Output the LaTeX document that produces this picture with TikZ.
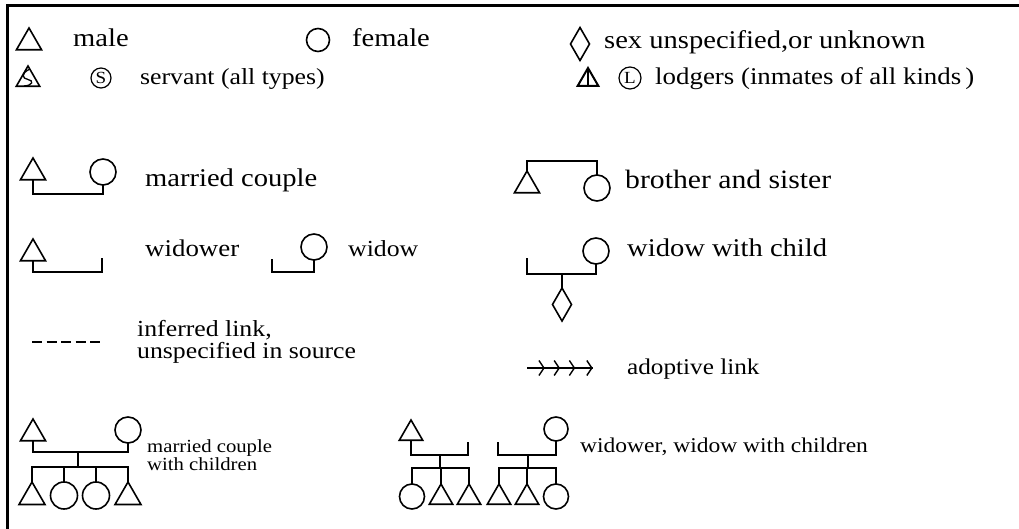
\documentclass[tikz,border=0pt]{standalone}
\usepackage{fontspec}
\setmainfont{Liberation Serif}[FakeStretch=1.12]
\usetikzlibrary{shapes.geometric,decorations.markings,arrows.meta}
\tikzset{
  sym/.style={draw, line width=1.6pt, inner sep=0pt, outer sep=0pt},
  male/.style={sym, regular polygon, regular polygon sides=3, minimum size=#1},
  male/.default=29,
  female/.style={sym, circle, minimum size=#1},
  female/.default=26,
  unknown/.style={sym, diamond, minimum width=19, minimum height=33},
  circlet/.style={draw, circle, line width=1.2pt, inner sep=0pt, minimum size=#1, font=\fontsize{17}{17}\selectfont},
  link/.style={line width=1.6pt},
  lbl/.style={anchor=base west, inner sep=0pt, font=\fontsize{25.5}{28}\selectfont},
  lblm/.style={anchor=base west, inner sep=0pt, font=\fontsize{23}{25}\selectfont},
  lblsmall/.style={anchor=base west, inner sep=0pt, align=left, font=\fontsize{18.5}{17.5}\selectfont},
  inferred/.style={line width=1.3pt, dash pattern=on 10pt off 4.5pt},
  adopt/.style={line width=1.4pt, postaction={decorate},
    decoration={markings,
      mark=at position 0.27 with {\arrow{Straight Barb[length=5pt,width=15pt]}},
      mark=at position 0.5 with {\arrow{Straight Barb[length=5pt,width=15pt]}},
      mark=at position 0.73 with {\arrow{Straight Barb[length=5pt,width=15pt]}},
      mark=at position 0.995 with {\arrow{Straight Barb[length=5pt,width=15pt]}}}},
  frame/.style={line width=3pt}
}
\begin{document}
\begin{tikzpicture}[x=1pt,y=-1pt]
\fill[white] (0,0) rectangle (1019,529);
\useasboundingbox (0,0) rectangle (1019,529);
% frame
\coordinate (fr1) at (7,529);
\coordinate (fr2) at (7,6);
\coordinate (fr3) at (1019,6);
\draw[frame] (fr1) -- (fr2) -- (fr3);

% ---------- row 1
\node[male, anchor=north] (m0) at (29,28) {};
\node[lbl] (tmale) at (73,47) {male};
\node[female=23] (f0) at (318,40) {};
\node[lbl] (tfemale) at (352,47) {female};
\node[unknown] (u0) at (580,44) {};
\node[lbl] (tunk) at (604,49) {sex unspecified,or unknown};

% ---------- row 2
\node[male=27, anchor=north] (sv) at (28,66) {};
\draw[line width=1.3pt] ([shift={(1,-10)}]sv.center) .. controls ([shift={(-7,-6)}]sv.center) and ([shift={(-6,-1)}]sv.center) .. ([shift={(0,0)}]sv.center) .. controls ([shift={(6,1)}]sv.center) and ([shift={(5,6)}]sv.center) .. ([shift={(-4,6.5)}]sv.center);
\node[circlet=20] (sc) at (101,78) {S};
\node[lblm] (tserv) at (140,85) {servant (all types)};
\node[male=24, line width=2pt, anchor=north] (ld) at (588,68) {};
\draw[line width=1.6pt] (ld.north) -- (ld.south);
\node[circlet=22] (lc) at (630,78) {L};
\node[lbl, font=\fontsize{24}{26}\selectfont] (tlodg) at (655,85) {lodgers (inmates of all kinds\,)};

% ---------- row 3: married couple
\node[male, anchor=north] (mcm) at (33,158) {};
\node[female] (mcf) at (103,172) {};
\coordinate (mcb) at (103,194);
\draw[link] (mcm.south) |- (mcb) -- (mcf.south);
\node[lbl] (tmc) at (145,187) {married couple};

% brother and sister
\node[male, anchor=north] (bsm) at (527,171) {};
\node[female] (bsf) at (597,188) {};
\coordinate (bsb) at (597,161);
\draw[link] (bsm.north) |- (bsb) -- (bsf.north);
\node[lbl, font=\fontsize{26.5}{28}\selectfont] (tbs) at (625,189) {brother and sister};

% ---------- row 4: widower
\node[male, anchor=north] (wrm) at (33,239) {};
\coordinate (wrc) at (102,272);
\coordinate (wre) at (102,258);
\draw[link] (wrm.south) |- (wrc) -- (wre);
\node[lbl, font=\fontsize{24}{26}\selectfont] (twr) at (145,257) {widower};

% widow
\coordinate (wde) at (272,259);
\node[female] (wdf) at (314,247) {};
\coordinate (wdc) at (314,272);
\draw[link] (wde) |- (wdc) -- (wdf.south);
\node[lblm] (twd) at (348,256) {widow};

% widow with child
\node[female] (wcf) at (596,251) {};
\coordinate (wce) at (527,258);
\coordinate (wcc) at (596,274);
\draw[link] (wce) |- (wcc) -- (wcf.south);
\coordinate (wcd) at (562,274);
\node[unknown, anchor=north] (wcu) at (562,288) {};
\draw[link] (wcd) -- (wcu.north);
\node[lbl] (twc) at (627,257) {widow with child};

% ---------- row 5
\coordinate (da) at (32,342);
\coordinate (db) at (100,342);
\draw[inferred] (da) -- (db);
\node[lbl, align=left, font=\fontsize{23}{21.5}\selectfont] (tinf) at (137,358) {inferred link,\\unspecified in source};

\coordinate (aa) at (527,368);
\coordinate (ab) at (593,368);
\draw[adopt] (aa) -- (ab);
\node[lbl, font=\fontsize{22.5}{25}\selectfont] (tad) at (627,374) {adoptive link};

% ---------- row 6: married couple with children
\node[male, anchor=north] (f6) at (33,419) {};
\node[female] (m6) at (128,430) {};
\coordinate (p6) at (128,452);
\draw[link] (f6.south) |- (p6) -- (m6.south);
\coordinate (q6) at (78,452);
\coordinate (s6) at (78,467);
\draw[link] (q6) -- (s6);
\node[male=30, anchor=north] (c61) at (32,482) {};
\node[female=27, anchor=north] (c62) at (64,482) {};
\node[female=27, anchor=north] (c63) at (96,482) {};
\node[male=30, anchor=north] (c64) at (128,482) {};
\coordinate (s6r) at (128,467);
\draw[link] (c61.north) |- (s6r) -- (c64.north);
\draw[link] (c62.north) -- (c62.north |- s6);
\draw[link] (c63.north) -- (c63.north |- s6);
\node[lblsmall] (tmcc) at (147,470) {married couple\\with children};

% widower with children
\node[male=27, anchor=north] (w7) at (411,420) {};
\coordinate (w7c) at (468,455);
\coordinate (w7e) at (468,442);
\draw[link] (w7.south) |- (w7c) -- (w7e);
\coordinate (w7m) at (440,455);
\coordinate (w7s) at (440,468);
\draw[link] (w7m) -- (w7s);
\node[female=25, anchor=north] (c71) at (412,484) {};
\node[male=27, anchor=north] (c72) at (441,484) {};
\node[male=27, anchor=north] (c73) at (469,484) {};
\coordinate (w7r) at (469,468);
\draw[link] (c71.north) |- (w7r) -- (c73.north);
\draw[link] (c72.north) -- (c72.north |- w7s);

% widow with children
\coordinate (w8e) at (498,442);
\node[female=24] (w8) at (556,429) {};
\coordinate (w8c) at (556,455);
\draw[link] (w8e) |- (w8c) -- (w8.south);
\coordinate (w8m) at (528,455);
\coordinate (w8s) at (528,468);
\draw[link] (w8m) -- (w8s);
\node[male=27, anchor=north] (c81) at (499,484) {};
\node[male=27, anchor=north] (c82) at (527,484) {};
\node[female=25, anchor=north] (c83) at (556,484) {};
\coordinate (w8r) at (556,468);
\draw[link] (c81.north) |- (w8r) -- (c83.north);
\draw[link] (c82.north) -- (c82.north |- w8s);
\node[lbl, font=\fontsize{21}{23}\selectfont] (tww) at (580,452) {widower, widow with children};
\end{tikzpicture}
\end{document}
